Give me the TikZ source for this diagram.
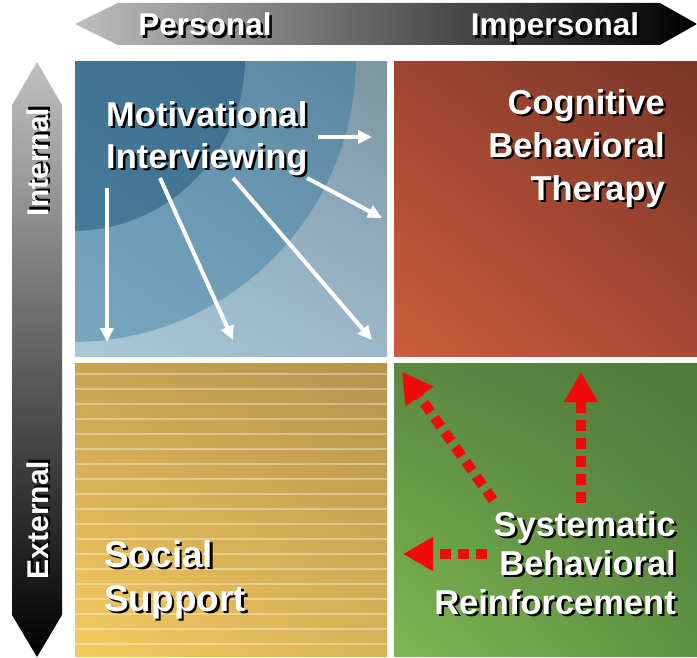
\documentclass[tikz,border=0pt]{standalone}
\usepackage{fontspec}
\setmainfont{Liberation Sans}
\usetikzlibrary{arrows.meta,shadings}
\definecolor{tlUL}{HTML}{8FB0C2}
\definecolor{tlUR}{HTML}{7A94A3}
\definecolor{tlLL}{HTML}{A8C8D8}
\definecolor{tlLR}{HTML}{9CB8C8}
\definecolor{tlRing}{HTML}{1F6A95}
\definecolor{tlDisc}{HTML}{1A5578}
\definecolor{trUL}{HTML}{9E4630}
\definecolor{trUR}{HTML}{7A3628}
\definecolor{trLL}{HTML}{CC5D3D}
\definecolor{trLR}{HTML}{A64A33}
\definecolor{blUL}{HTML}{C9A352}
\definecolor{blUR}{HTML}{B8924C}
\definecolor{blLL}{HTML}{F5CB5F}
\definecolor{blLR}{HTML}{D9B358}
\definecolor{brUL}{HTML}{5B8842}
\definecolor{brUR}{HTML}{4F7B3A}
\definecolor{brLL}{HTML}{7EB752}
\definecolor{brLR}{HTML}{5F9043}
\definecolor{axLight}{HTML}{BDBDBD}
\definecolor{redArr}{HTML}{F20A0A}
\newcommand\sh[1]{\makebox[0pt][l]{\kern2.5pt\raisebox{-2.5pt}{\textcolor{black}{#1}}}#1}
\tikzset{
  lbl/.style={text=white, inner sep=0pt, font=\bfseries\fontsize{34.5}{42}\selectfont},
  axislbl/.style={text=white, inner sep=0pt, font=\bfseries\fontsize{31.5}{36}\selectfont},
  sidelbl/.style={text=white, inner sep=0pt, rotate=90, anchor=base, font=\bfseries\fontsize{30}{36}\selectfont},
  whitearrow/.style={draw=white, line width=4pt, -{Triangle[width=13pt,length=14pt]}},
  redarrow/.style={draw=redArr, line width=10pt, dash pattern=on 11pt off 7pt, -{Triangle[width=32pt,length=30pt]}},
  bandline/.style={draw=white, draw opacity=0.35, line width=1.2pt},
}
\begin{document}
\begin{tikzpicture}[x=1pt,y=-1pt]
\useasboundingbox (0,0) rectangle (697,658);
\fill[white] (0,0) rectangle (697,658);

% axis arrows
\shade[left color=axLight, right color=black]
  (75,24) -- (118,3) -- (660,3) -- (697,24) -- (660,45) -- (118,45) -- cycle;
\shade[top color=axLight!95!white, bottom color=black]
  (37,62) -- (62,105) -- (62,615) -- (37,657) -- (12,615) -- (12,105) -- cycle;

% top-left quadrant
\begin{scope}
  \clip (75,62) rectangle (387,356);
  \shade[upper left=tlUL, upper right=tlUR, lower left=tlLL, lower right=tlLR] (75,62) rectangle (387,356);
  \fill[tlRing, opacity=0.35] (72,58) circle (284);
  \fill[tlDisc, opacity=0.5] (72,58) circle (173);
\end{scope}

% top-right quadrant
\shade[upper left=trUL, upper right=trUR, lower left=trLL, lower right=trLR] (394,62) rectangle (697,356);

% bottom-left quadrant
\shade[upper left=blUL, upper right=blUR, lower left=blLL, lower right=blLR] (75,363) rectangle (387,656);
\foreach \yy in {374,389,...,650} \draw[bandline] (75,\yy) -- (387,\yy);

% bottom-right quadrant
\shade[upper left=brUL, upper right=brUR, lower left=brLL, lower right=brLR] (394,363) rectangle (697,656);

% axis labels
\node[axislbl, anchor=base] (personal) at (205,36) {\sh{Personal}};
\node[axislbl, anchor=base] (impersonal) at (555,36) {\sh{Impersonal}};
\node[sidelbl] (internal) at (48,162) {\sh{Internal}};
\node[sidelbl] (external) at (48,520) {\sh{External}};

% quadrant labels
\node[lbl, anchor=north west, align=left] (mi) at (106,101) {\sh{Motivational}\\\sh{Interviewing}};
\node[lbl, anchor=north east, align=right, font=\bfseries\fontsize{34.5}{43}\selectfont] (cbt) at (665,89) {\sh{Cognitive}\\\sh{Behavioral}\\\sh{Therapy}};
\node[lbl, anchor=north west, align=left, font=\bfseries\fontsize{37}{44}\selectfont] (ss) at (104,540) {\sh{Social}\\\sh{Support}};
\node[lbl, anchor=north east, align=right, font=\bfseries\fontsize{34.5}{39}\selectfont] (sbr) at (676,511) {\sh{Systematic}\\\sh{Behavioral}\\\sh{Reinforcement}};

% white arrow end points
\coordinate (w1s) at (318,137); \coordinate (w1e) at (372,137);
\coordinate (w2s) at (307,178); \coordinate (w2e) at (382,218);
\coordinate (w3s) at (233,178); \coordinate (w3e) at (372,340);
\coordinate (w4s) at (160,178); \coordinate (w4e) at (233,340);
\coordinate (w5s) at (107,188); \coordinate (w5e) at (107,342);
\draw[whitearrow] (w1s) -- (w1e);
\draw[whitearrow] (w2s) -- (w2e);
\draw[whitearrow] (w3s) -- (w3e);
\draw[whitearrow] (w4s) -- (w4e);
\draw[whitearrow] (w5s) -- (w5e);

% red dashed arrows
\coordinate (r1s) at (581,503); \coordinate (r1e) at (581,372);
\coordinate (r2s) at (493,500); \coordinate (r2e) at (402,372);
\coordinate (r3s) at (487,554); \coordinate (r3e) at (403,554);
\draw[redarrow] (r1s) -- (r1e);
\draw[redarrow] (r2s) -- (r2e);
\draw[redarrow] (r3s) -- (r3e);
\end{tikzpicture}
\end{document}
